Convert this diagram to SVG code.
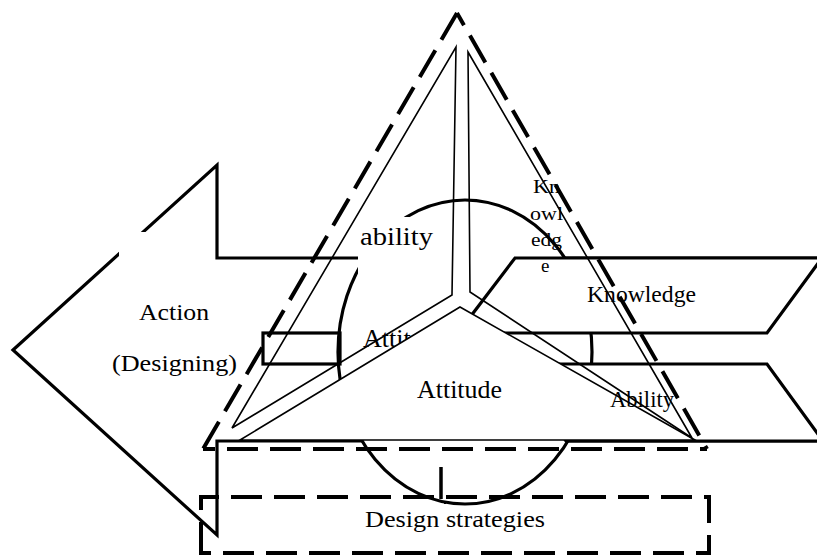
<svg xmlns="http://www.w3.org/2000/svg" width="817" height="559" viewBox="0 0 817 559">
  <style>
    .thick { fill: #fff; stroke: #000; stroke-width: 3.2; stroke-linejoin: miter; }
    .outline { fill: none; stroke: #000; stroke-width: 3.2; }
    .thin { fill: none; stroke: #000; stroke-width: 1.6; stroke-linejoin: miter; }
    .face { fill: #fff; stroke: #000; stroke-width: 1.6; stroke-linejoin: miter; }
    .dash { fill: none; stroke: #000; stroke-width: 4; stroke-dasharray: 31 12; }
    .mask { fill: #fff; stroke: none; }
    text { font-family: "Liberation Serif", "Times New Roman", serif; fill: #000; }
  </style>

  <rect width="817" height="559" fill="#fff"/>

  <!-- Action: large left-pointing arrow -->
  <g id="action">
    <polygon class="thick" points="13,350 217,165 217,258 830,258 830,441 217,441 217,535"/>
    <rect class="mask" x="119" y="232" width="95" height="150"/>
    <text x="139" y="320" font-size="24" textLength="70" lengthAdjust="spacingAndGlyphs">Action</text>
    <text x="112" y="371" font-size="24" textLength="125" lengthAdjust="spacingAndGlyphs">(Designing)</text>
  </g>

  <!-- central ellipse -->
  <g id="core">
    <ellipse class="thick" cx="465" cy="352" rx="127" ry="152" stroke-width="3.5"/>
  </g>

  <!-- small attitude tab on the left of the ellipse -->
  <g id="attitude-tab">
    <rect class="outline" x="263" y="333" width="77" height="31"/>
    <text x="363" y="347" font-size="26">Attit</text>
  </g>

  <!-- ability label box -->
  <g id="ability-label">
    <rect class="mask" x="358" y="217" width="92" height="83"/>
    <text x="360" y="245" font-size="26" textLength="73" lengthAdjust="spacingAndGlyphs">ability</text>
  </g>

  <!-- knowledge band -->
  <g id="knowledge">
    <polygon class="thick" points="515,258 822,258 767,333 458,333"/>
  </g>

  <!-- ability band -->
  <g id="ability">
    <polygon class="thick" points="510,364 767,364 823,441 566,441"/>
  </g>

  <!-- attitude: base face of the pyramid -->
  <g id="attitude">
    <polygon class="face" points="460,307 695,440 240,440"/>
    <text x="417" y="398" font-size="25" textLength="85" lengthAdjust="spacingAndGlyphs">Attitude</text>
  </g>

  <!-- pyramid side faces -->
  <g id="pyramid">
    <polygon class="thin" points="456,47 452,295 232,428"/>
    <polygon class="thin" points="468,52 692,438 470,292"/>
    <text x="533" y="193" font-size="19" textLength="27" lengthAdjust="spacingAndGlyphs">Kn</text>
    <text x="530" y="220" font-size="19" textLength="33" lengthAdjust="spacingAndGlyphs">owl</text>
    <text x="531" y="246" font-size="19" textLength="31" lengthAdjust="spacingAndGlyphs">edg</text>
    <text x="541" y="272" font-size="19">e</text>
  </g>

  <!-- dashed outer boundary triangle -->
  <g id="boundary">
    <path class="dash" d="M457,13 L203,449"/>
    <path class="dash" d="M457,13 L707,449" stroke-dashoffset="17"/>
    <path class="dash" d="M203,449 L707,449" stroke-dashoffset="19"/>
  </g>

  <!-- design strategies box -->
  <g id="strategies">
    <path class="dash" d="M201,553 L201,497 L709,497 L709,553 Z"/>
    <text x="365" y="527" font-size="23.5" textLength="180" lengthAdjust="spacingAndGlyphs">Design strategies</text>
  </g>

  <!-- connectors -->
  <g id="connectors">
    <line x1="441" y1="467" x2="441" y2="499" stroke="#000" stroke-width="3.5"/>
    <line x1="445" y1="502" x2="445" y2="504" stroke="#000" stroke-width="2"/>
  </g>

  <!-- labels drawn over the faces -->
  <g id="band-labels">
    <text x="587" y="302" font-size="23" textLength="109" lengthAdjust="spacingAndGlyphs">Knowledge</text>
    <text x="610" y="407" font-size="22.5" textLength="64" lengthAdjust="spacingAndGlyphs">Ability</text>
  </g>
</svg>
